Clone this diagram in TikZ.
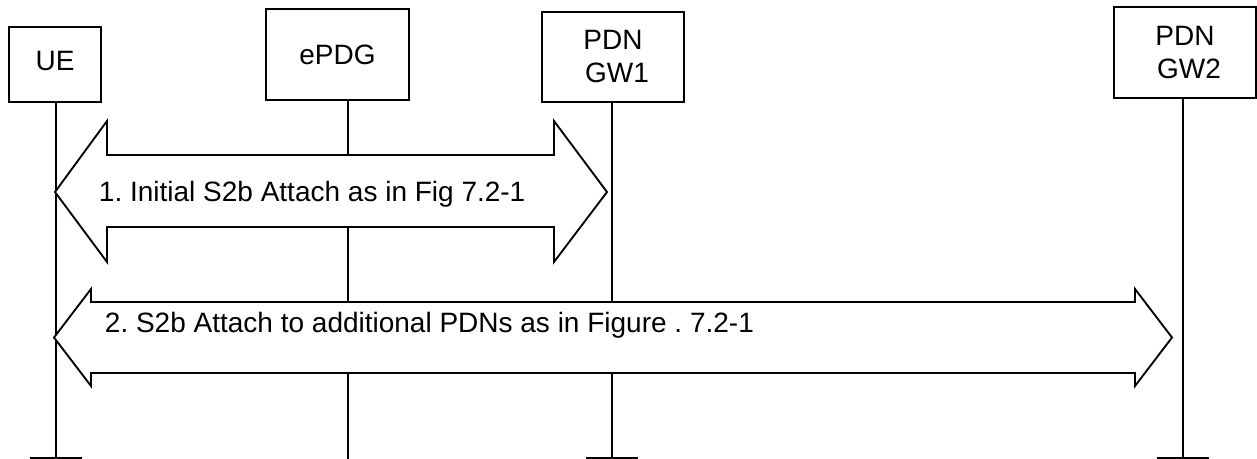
\documentclass[tikz,border=0pt]{standalone}
\usepackage{fontspec}
\setmainfont{Liberation Sans}
\usetikzlibrary{positioning,calc}
\frenchspacing

\begin{document}
\begin{tikzpicture}[x=0.75pt,y=-0.75pt,line width=1.4pt,
    entity/.style={draw,rectangle,align=center,inner sep=0pt,font=\fontsize{21}{24.75}\selectfont},
    life/.style={line width=1.4pt},
    tee/.style={line width=1.4pt},
    blockarrow/.style={draw,fill=white,line join=miter},
    msg/.style={anchor=base west,inner sep=0pt,font=\fontsize{21}{24}\selectfont}]

    \useasboundingbox (0,0) rectangle (1257,459);

    % entities
    \node[entity,minimum width=69pt,minimum height=56.25pt,text depth=0.55em] (ue) at (55,64.5) {UE};
    \node[entity,minimum width=107.25pt,minimum height=68.25pt] (epdg) at (337.5,54.5) {ePDG};
    \node[entity,minimum width=106.5pt,minimum height=67.5pt] (gw1) at (613,57) {PDN\\ \hspace*{0.28em}GW1};
    \node[entity,minimum width=106.5pt,minimum height=68.25pt] (gw2) at (1185,52.5) {PDN\\ \hspace*{0.28em}GW2};

    % lifeline ends
    \coordinate (ue-end) at (56,458);
    \coordinate (epdg-end) at (348,459);
    \coordinate (gw1-end) at (612,458);
    \coordinate (gw2-end) at (1183,458);

    \foreach \ent in {ue,epdg,gw1,gw2}{
        \draw[life] (\ent.south -| \ent-end) -- (\ent-end);
    }

    % 1. initial attach
    \draw[blockarrow] (55,192) -- (107,121) -- (107,155) -- (554,155) -- (554,121)
        -- (607,192) -- (554,262) -- (554,227) -- (107,227) -- (107,262) -- cycle;
    \node[msg] (m1) at (98,202) {1. Initial S2b Attach as in Fig 7.2-1};

    % 2. additional PDNs
    \draw[blockarrow] (54,337.5) -- (91,289) -- (91,302) -- (1135,302) -- (1135,289)
        -- (1172,337.5) -- (1135,386) -- (1135,373) -- (91,373) -- (91,386) -- cycle;
    \node[msg] (m2) at (104,333) {2. S2b Attach to additional PDNs as in Figure . 7.2-1};

    % tees
    \foreach \ent in {ue,gw1,gw2}{
        \draw[tee] ($(\ent-end)+(-26,0)$) -- ($(\ent-end)+(26,0)$);
    }

\end{tikzpicture}
\end{document}
